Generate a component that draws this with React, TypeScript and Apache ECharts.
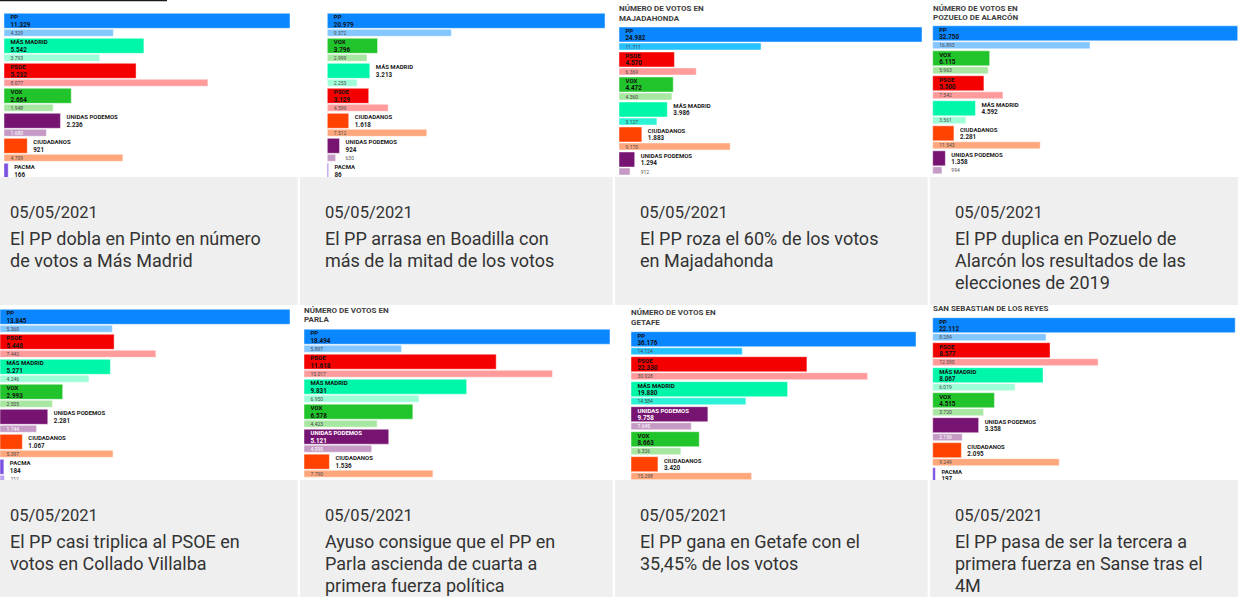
import React, { useEffect, useRef } from "react";
import * as echarts from "echarts";

// ---------- DATA ----------
const dates = ["05/05/2021", "05/05/2021", "05/05/2021", "05/05/2021", "05/05/2021", "05/05/2021", "05/05/2021", "05/05/2021"];

const headlines: string[][] = [
  ["El PP dobla en Pinto en número", "de votos a Más Madrid"],
  ["El PP arrasa en Boadilla con", "más de la mitad de los votos"],
  ["El PP roza el 60% de los votos", "en Majadahonda"],
  ["El PP duplica en Pozuelo de", "Alarcón los resultados de las", "elecciones de 2019"],
  ["El PP casi triplica al PSOE en", "votos en Collado Villalba"],
  ["Ayuso consigue que el PP en", "Parla ascienda de cuarta a", "primera fuerza política"],
  ["El PP gana en Getafe con el", "35,45% de los votos"],
  ["El PP pasa de ser la tercera a", "primera fuerza en Sanse tras el", "4M"],
];

const chartTitles: string[][] = [
  [],
  [],
  ["NÚMERO DE VOTOS EN", "MAJADAHONDA"],
  ["NÚMERO DE VOTOS EN", "POZUELO DE ALARCÓN"],
  [],
  ["NÚMERO DE VOTOS EN", "PARLA"],
  ["NÚMERO DE VOTOS EN", "GETAFE"],
  ["SAN SEBASTIAN DE LOS REYES"],
];

const pintoParties = ["PP", "MÁS MADRID", "PSOE", "VOX", "UNIDAS PODEMOS", "CIUDADANOS", "PACMA"];
const pinto2021 = [11329, 5542, 5232, 2664, 2236, 921, 166];
const pinto2019 = [4329, 3793, 8077, 1948, 1680, 4709, 260];

const boadillaParties = ["PP", "VOX", "MÁS MADRID", "PSOE", "CIUDADANOS", "UNIDAS PODEMOS", "PACMA"];
const boadilla2021 = [20979, 3796, 3213, 3129, 1618, 924, 86];
const boadilla2019 = [9372, 2999, 2253, 4599, 7512, 630, 150];

const majadahondaParties = ["PP", "PSOE", "VOX", "MÁS MADRID", "CIUDADANOS", "UNIDAS PODEMOS"];
const majadahonda2021 = [24982, 4570, 4472, 3986, 1883, 1294];
const majadahonda2019 = [11711, 6369, 4360, 3127, 9170, 912];

const pozueloParties = ["PP", "VOX", "PSOE", "MÁS MADRID", "CIUDADANOS", "UNIDAS PODEMOS"];
const pozuelo2021 = [32750, 6115, 5500, 4592, 2281, 1358];
const pozuelo2019 = [16893, 5963, 7542, 3561, 11543, 994];

const villalbaParties = ["PP", "PSOE", "MÁS MADRID", "VOX", "UNIDAS PODEMOS", "CIUDADANOS", "PACMA"];
const villalba2021 = [13845, 5448, 5271, 2993, 2281, 1067, 184];
const villalba2019 = [5360, 7442, 4246, 2505, 1744, 5397, 212];

const parlaParties = ["PP", "PSOE", "MÁS MADRID", "VOX", "UNIDAS PODEMOS", "CIUDADANOS"];
const parla2021 = [18494, 11618, 9831, 6578, 5121, 1536];
const parla2019 = [5897, 15017, 6950, 4423, 4090, 7790];

const getafeParties = ["PP", "PSOE", "MÁS MADRID", "UNIDAS PODEMOS", "VOX", "CIUDADANOS"];
const getafe2021 = [36176, 22330, 19880, 9758, 8663, 3420];
const getafe2019 = [14124, 30028, 14584, 7645, 6326, 15298];

const sanseParties = ["PP", "PSOE", "MÁS MADRID", "VOX", "UNIDAS PODEMOS", "CIUDADANOS", "PACMA"];
const sanse2021 = [22112, 8577, 8067, 4515, 3358, 2095, 197];
const sanse2019 = [8284, 12090, 6019, 3720, 2159, 9249, 350];

const cardParties = [pintoParties, boadillaParties, majadahondaParties, pozueloParties, villalbaParties, parlaParties, getafeParties, sanseParties];
const cardVotes2021 = [pinto2021, boadilla2021, majadahonda2021, pozuelo2021, villalba2021, parla2021, getafe2021, sanse2021];
const cardVotes2019 = [pinto2019, boadilla2019, majadahonda2019, pozuelo2019, villalba2019, parla2019, getafe2019, sanse2019];

// ---------- STYLE / LAYOUT ----------
const PARTY_STYLE: Record<string, { main: string; prev: string; prevAlt?: string; text: string; prevText: string }> = {
  PP: { main: "#0a86ff", prev: "#84c6ff", prevAlt: "#26c2ff", text: "#111", prevText: "#4a4a4a" },
  "MÁS MADRID": { main: "#00f7aa", prev: "#9effd8", prevAlt: "#2cf2d6", text: "#111", prevText: "#4a4a4a" },
  PSOE: { main: "#f50000", prev: "#ff9b9b", text: "#111", prevText: "#4a4a4a" },
  VOX: { main: "#22c42b", prev: "#a8e7a1", text: "#111", prevText: "#4a4a4a" },
  "UNIDAS PODEMOS": { main: "#771472", prev: "#c59bc6", text: "#ffffff", prevText: "#ffffff" },
  CIUDADANOS: { main: "#ff4200", prev: "#ffa77c", text: "#111", prevText: "#4a4a4a" },
  PACMA: { main: "#7b4fe0", prev: "#b9a3f0", text: "#111", prevText: "#4a4a4a" },
};

// grid placement of each thumbnail chart (left px, top px of first bar, plot width px)
const gridLayout = [
  { left: 4, top: 13.3, width: 286, alt: false },
  { left: 327.3, top: 13.3, width: 277.7, alt: false },
  { left: 619, top: 27, width: 303, alt: true },
  { left: 932.7, top: 25.8, width: 305, alt: false },
  { left: -1.4, top: 309.3, width: 291.4, alt: false },
  { left: 304, top: 329.2, width: 306, alt: false },
  { left: 631, top: 331.7, width: 285, alt: true },
  { left: 932.7, top: 317.7, width: 302.5, alt: false },
];
const titleLayout = [
  null,
  null,
  { x: 619, y: 8.3, dy: 10 },
  { x: 933, y: 8, dy: 9.5 },
  null,
  { x: 304, y: 310.3, dy: 9.3 },
  { x: 631, y: 312.8, dy: 10 },
  { x: 933, y: 308.5, dy: 9.5 },
];

const BAND = 25;
const FONT = "Roboto, 'Noto Sans', sans-serif";
const CARD_W = 312.6;
const colX = [-15, 300, 615, 930];
const rowGray = [
  { y: 177, h: 128, dateY: 212, titleY: 238 },
  { y: 480, h: 130, dateY: 515, titleY: 541 },
];

const fmt = (n: number) => String(Math.round(n)).replace(/\B(?=(\d{3})+(?!\d))/g, ".");

function makeRender(names: string[], alt: boolean) {
  return (_params: any, api: any) => {
    const i = api.value(0) as number;
    const v = api.value(1) as number;
    const p = api.value(2) as number;
    const o = api.coord([0, i]);
    const e = api.coord([v, i]);
    const ep = api.coord([p, i]);
    const band = (api.size([0, 1]) as number[])[1] || BAND;
    const T = o[1] - band / 2;
    const name = names[i];
    const st = PARTY_STYLE[name];
    const wMain = Math.max(e[0] - o[0], 1);
    const wPrev = Math.max(ep[0] - o[0], 1);
    const vStr = fmt(v);
    const pStr = fmt(p);
    const textW = Math.max(name.length * 3.9, vStr.length * 3.3);
    const inside = wMain >= textW + 16;
    const lx = inside ? o[0] + 6.5 : o[0] + wMain + 6;
    const lfill = inside ? st.text : "#222";
    const prevInside = wPrev >= pStr.length * 2.8 + 12;
    const px = prevInside ? o[0] + 6.5 : o[0] + Math.max(wPrev, wMain) + 6;
    const pfill = prevInside ? st.prevText : "#555";
    const prevColor = alt && st.prevAlt ? st.prevAlt : st.prev;
    return {
      type: "group",
      children: [
        {
          type: "rect",
          shape: { x: o[0], y: T, width: wMain, height: 15 },
          style: { fill: st.main, stroke: "rgba(255,255,255,0.45)", lineWidth: 1 },
        },
        {
          type: "rect",
          shape: { x: o[0], y: T + 16, width: wPrev, height: 7 },
          style: { fill: prevColor, stroke: "rgba(255,255,255,0.45)", lineWidth: 1 },
        },
        {
          type: "text",
          style: { text: name, x: lx, y: T + 3.6, fill: lfill, fontSize: 6, fontWeight: "bold", fontFamily: FONT, verticalAlign: "middle", align: "left" },
        },
        {
          type: "text",
          style: { text: vStr, x: lx, y: T + 11.4, fill: lfill, fontSize: 6.3, fontWeight: "bold", fontFamily: FONT, verticalAlign: "middle", align: "left" },
        },
        {
          type: "text",
          style: { text: pStr, x: px, y: T + 19.6, fill: pfill, fontSize: 5, fontFamily: FONT, verticalAlign: "middle", align: "left" },
        },
      ],
    };
  };
}

export default function App() {
  const ref = useRef<HTMLDivElement>(null);
  useEffect(() => {
    if (!ref.current) return;
    const chart = echarts.init(ref.current, undefined, { renderer: "svg" });

    const grids: any[] = [];
    const xAxes: any[] = [];
    const yAxes: any[] = [];
    const series: any[] = [];
    cardParties.forEach((names, k) => {
      const g = gridLayout[k];
      grids.push({ left: g.left, top: g.top, width: g.width, height: names.length * BAND, containLabel: false });
      xAxes.push({ type: "value", gridIndex: k, min: 0, max: "dataMax", show: false, splitLine: { show: false } });
      yAxes.push({ type: "category", gridIndex: k, data: names, inverse: true, show: false });
      series.push({
        type: "custom",
        xAxisIndex: k,
        yAxisIndex: k,
        silent: true,
        clip: false,
        renderItem: makeRender(names, g.alt),
        encode: { x: [1, 2], y: 0 },
        data: names.map((_n, i) => [i, cardVotes2021[k][i], cardVotes2019[k][i]]),
      });
    });

    const graphics: any[] = [];
    graphics.push({ type: "rect", z: 100, shape: { x: 0, y: 0, width: 167, height: 1.3 }, style: { fill: "#1a1a1a" } });
    // chart titles inside thumbnails
    chartTitles.forEach((lines, k) => {
      const t = titleLayout[k];
      if (!t) return;
      lines.forEach((line, j) => {
        graphics.push({
          type: "text",
          z: 50,
          x: t.x,
          y: t.y + j * t.dy,
          style: { text: line, fill: "#3d3d3d", fontSize: 8, fontWeight: "bold", fontFamily: FONT, verticalAlign: "middle" },
        });
      });
    });
    // card text areas
    headlines.forEach((lines, k) => {
      const row = k < 4 ? 0 : 1;
      const col = k % 4;
      const r = rowGray[row];
      const cx = colX[col];
      graphics.push({ type: "rect", z: 100, shape: { x: cx, y: r.y, width: CARD_W, height: r.h }, style: { fill: "#efefef" } });
      graphics.push({
        type: "text",
        z: 101,
        x: cx + 25,
        y: r.dateY,
        style: { text: dates[k], fill: "#333333", fontSize: 16.5, fontFamily: FONT, verticalAlign: "middle" },
      });
      lines.forEach((line, j) => {
        graphics.push({
          type: "text",
          z: 101,
          x: cx + 25,
          y: r.titleY + j * 22,
          style: { text: line, fill: "#333333", fontSize: 18, fontFamily: FONT, verticalAlign: "middle" },
        });
      });
    });

    chart.setOption({
      animation: false,
      backgroundColor: "#ffffff",
      grid: grids,
      xAxis: xAxes,
      yAxis: yAxes,
      series,
      graphic: graphics,
    });
    return () => chart.dispose();
  }, []);
  return <div ref={ref} style={{ position: "absolute", left: 0, top: 0, width: 1238, height: 597 }} />;
}
